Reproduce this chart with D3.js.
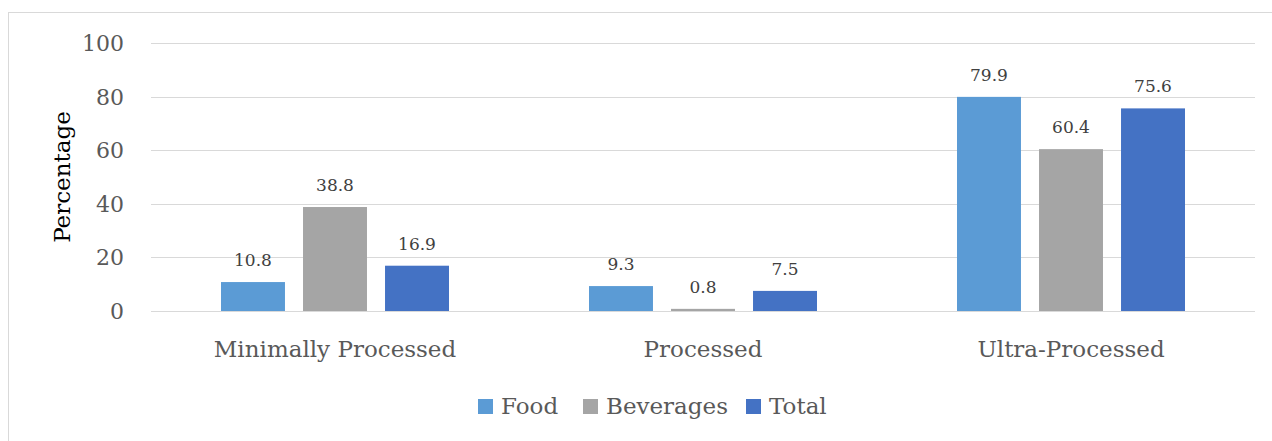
<!DOCTYPE html>
<html>
<head>
<meta charset="utf-8">
<script src="https://cdn.jsdelivr.net/npm/d3@7"></script>
<style>
  body { margin: 0; background: #fff; }
  svg { display: block; font-family: "DejaVu Serif", serif; }
  .grid line { stroke: #d9d9d9; stroke-width: 1; }
  .tick-label { fill: #595959; font-size: 22px; }
  .cat-label { fill: #595959; font-size: 23px; }
  .value-label { fill: #404040; font-size: 17px; }
  .legend-label { fill: #595959; font-size: 23px; }
</style>
</head>
<body>
<svg width="1272" height="441"></svg>
<script>
// data
let categories = ["Minimally Processed", "Processed", "Ultra-Processed"];
let seriesNames = ["Food", "Beverages", "Total"];
let food = [10.8, 9.3, 79.9];
let beverages = [38.8, 0.8, 60.4];
let total = [16.9, 7.5, 75.6];
let yTicks = [0, 20, 40, 60, 80, 100];

var color = d3.scaleOrdinal()
    .domain(seriesNames)
    .range(["#5b9bd5", "#a5a5a5", "#4472c4"]);

var values = { "Food": food, "Beverages": beverages, "Total": total };

var svg = d3.select("svg"),
    width = +svg.attr("width"),
    height = +svg.attr("height");

// chart border
svg.append("rect")
    .attr("x", 8.5).attr("y", 12.5)
    .attr("width", 1270).attr("height", 440)
    .attr("fill", "none")
    .attr("stroke", "#d9d9d9");

var plot = { left: 151, right: 1255, top: 43, bottom: 311 };

let x0 = d3.scaleBand()
    .domain(categories)
    .range([plot.left, plot.right]);

let x1 = d3.scaleBand()
    .domain(seriesNames)
    .range([70, x0.bandwidth() - 70])
    .paddingInner(0.22);

let y = d3.scaleLinear()
    .domain([0, 100])
    .range([plot.bottom, plot.top]);

// gridlines
svg.append("g")
    .attr("class", "grid")
    .selectAll("line")
    .data(yTicks)
    .enter().append("line")
    .attr("x1", plot.left).attr("x2", plot.right)
    .attr("y1", d => Math.round(y(d)) + 0.5)
    .attr("y2", d => Math.round(y(d)) + 0.5);

// y tick labels
svg.append("g")
    .selectAll("text")
    .data(yTicks)
    .enter().append("text")
    .attr("class", "tick-label")
    .attr("x", 124)
    .attr("y", d => y(d))
    .attr("dy", "0.36em")
    .attr("text-anchor", "end")
    .text(d => d);

// y axis title
svg.append("text")
    .attr("transform", "translate(70," + ((plot.top + plot.bottom) / 2) + ") rotate(-90)")
    .attr("text-anchor", "middle")
    .attr("fill", "#000")
    .style("font-size", "23px")
    .text("Percentage");

// bars
let groups = svg.append("g")
    .selectAll("g")
    .data(categories)
    .enter().append("g")
    .attr("transform", d => "translate(" + x0(d) + ",0)");

let barData = (c, i) => seriesNames.map(s => ({ series: s, value: values[s][i] }));

groups.selectAll("rect")
    .data(barData)
    .enter().append("rect")
    .attr("x", d => x1(d.series))
    .attr("y", d => y(d.value))
    .attr("width", x1.bandwidth())
    .attr("height", d => y(0) - y(d.value))
    .attr("fill", d => color(d.series));

groups.selectAll("text")
    .data(barData)
    .enter().append("text")
    .attr("class", "value-label")
    .attr("x", d => x1(d.series) + x1.bandwidth() / 2)
    .attr("y", d => y(d.value) - 16)
    .attr("text-anchor", "middle")
    .text(d => d.value.toFixed(1));

// category labels
svg.append("g")
    .selectAll("text")
    .data(categories)
    .enter().append("text")
    .attr("class", "cat-label")
    .attr("x", d => x0(d) + x0.bandwidth() / 2)
    .attr("y", 357)
    .attr("text-anchor", "middle")
    .text(d => d);

// legend
let legendX = [478, 583, 746];
let legend = svg.append("g")
    .selectAll("g")
    .data(seriesNames)
    .enter().append("g")
    .attr("transform", (d, i) => "translate(" + legendX[i] + ",399)");

legend.append("rect")
    .attr("width", 15).attr("height", 15)
    .attr("fill", d => color(d));

legend.append("text")
    .attr("class", "legend-label")
    .attr("x", 23)
    .attr("y", 15)
    .text(d => d);
</script>
</body>
</html>
